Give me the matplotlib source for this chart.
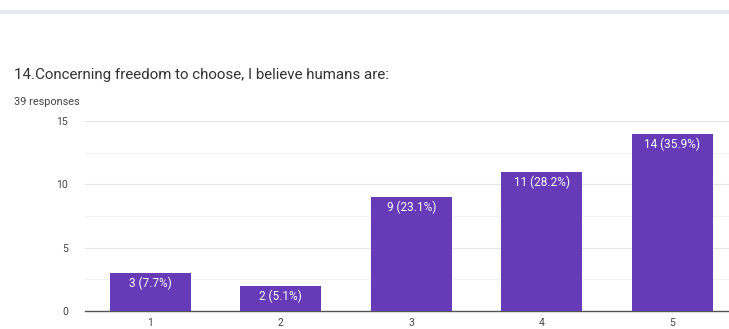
import matplotlib
matplotlib.use("Agg")
import matplotlib.pyplot as plt
from matplotlib.lines import Line2D

categories = ["1", "2", "3", "4", "5"]
counts = [3, 2, 9, 11, 14]
pcts = ["7.7%", "5.1%", "23.1%", "28.2%", "35.9%"]
yticks = [0, 5, 10, 15]
title = "14.Concerning freedom to choose, I believe humans are:"
subtitle = "39 responses"

plt.rcParams['font.family'] = ['Roboto', 'DejaVu Sans']

fig = plt.figure(figsize=(7.29, 3.29), dpi=100)
fig.patch.set_facecolor("white")

# top separator band
fig.add_artist(Line2D([0, 1], [1 - 11.5/329, 1 - 11.5/329], color="#e8e8f0", lw=3, transform=fig.transFigure))

fig.text(14/729, 1 - 75/329, title, fontsize=10.9, color="#333333", va="center", ha="left")
fig.text(14/729, 1 - 102/329, subtitle, fontsize=7.8, color="#444444", va="center", ha="left")

ax = fig.add_axes([85/729, 18/329, (729-85)/729, 190/329])
x = list(range(1, len(categories) + 1))
bars = ax.bar(x, counts, width=0.62, color="#673ab7", zorder=3)
for xi, c, p in zip(x, counts, pcts):
    ax.text(xi, c - 0.3, f"{c} ({p})", color="white", fontsize=8.5, ha="center", va="top", zorder=4)

ax.set_xlim(0.5, 5.5 - 8.5/131)
ax.set_ylim(0, 15)
ax.set_yticks(yticks)
ax.set_yticks([2.5, 7.5, 12.5], minor=True)
ax.set_xticks(x)
ax.set_xticklabels(categories)
ax.grid(axis="y", which="major", color="#e6e6e6", lw=0.8, zorder=0)
ax.grid(axis="y", which="minor", color="#f3f3f3", lw=0.8, zorder=0)
for s in ["top", "right", "left"]:
    ax.spines[s].set_visible(False)
ax.spines["bottom"].set_color("#555555")
ax.spines["bottom"].set_linewidth(1.0)
ax.tick_params(axis="both", which="both", length=0, labelsize=7.5, labelcolor="#444444")
ax.tick_params(axis="y", pad=12)
ax.tick_params(axis="x", pad=5)

fig.savefig("out.png", dpi=100)
